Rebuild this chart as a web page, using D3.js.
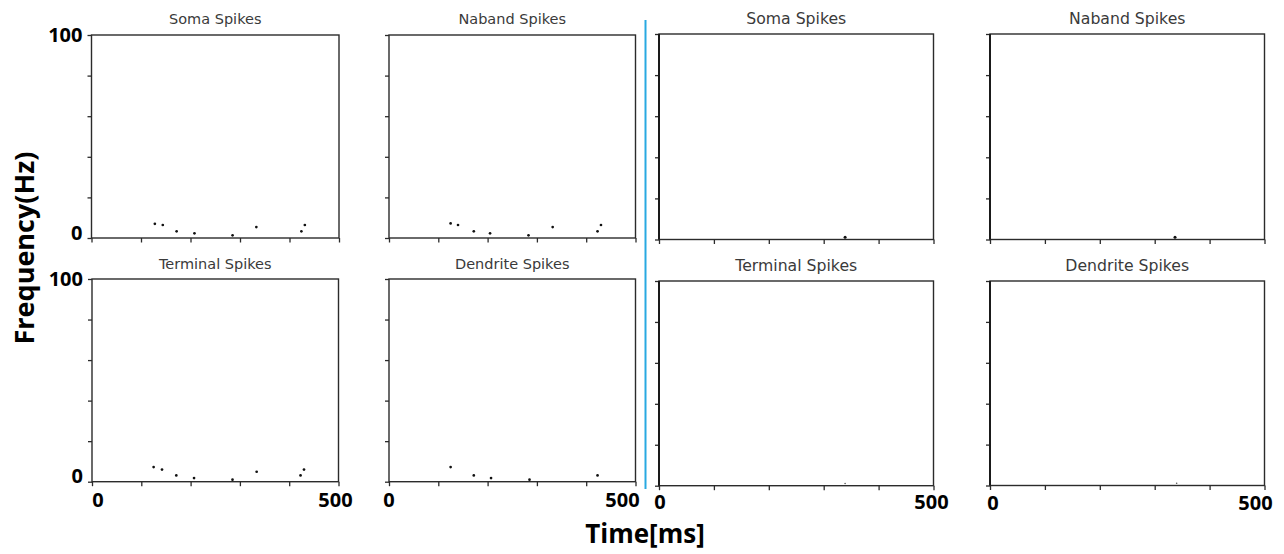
<!DOCTYPE html>
<html>
<head>
<meta charset="utf-8">
<script src="https://cdn.jsdelivr.net/npm/d3@7/dist/d3.min.js"></script>
<style>
  html, body { margin: 0; padding: 0; background: #fff; }
  svg { display: block; }
</style>
</head>
<body>
<svg id="chart" width="1284" height="554"></svg>
<script>
// Spike frequency (Hz) against time (ms) for four compartments, two conditions
const panelTitles = ["Soma Spikes", "Naband Spikes", "Terminal Spikes", "Dendrite Spikes"];

// Condition A (left block)
const somaTimesA     = [128, 144, 172, 208, 285, 333, 424, 431];
const somaFreqA      = [7.0, 6.4, 3.3, 2.3, 1.3, 5.4, 3.3, 6.4];
const nabandTimesA   = [125, 140, 172, 205, 283, 332, 423, 430];
const nabandFreqA    = [7.2, 6.4, 3.3, 2.3, 1.3, 5.4, 3.3, 6.4];
const terminalTimesA = [125, 142, 171, 207, 285, 334, 423, 430];
const terminalFreqA  = [7.2, 6.0, 3.1, 1.8, 1.0, 4.9, 3.1, 6.0];
const dendriteTimesA = [125, 172, 207, 285, 423];
const dendriteFreqA  = [7.2, 3.1, 1.8, 1.0, 3.1];

// Condition B (right block)
const somaTimesB     = [339];
const somaFreqB      = [1.1];
const nabandTimesB   = [337];
const nabandFreqB    = [1.1];
const terminalTimesB = [339];
const terminalFreqB  = [1.1];
const dendriteTimesB = [340];
const dendriteFreqB  = [1.1];

const timeDomain = [0, 500];
const freqDomain = [0, 100];
const timeTicks = [0, 100, 200, 300, 400, 500];
const freqTicks = [0, 20, 40, 60, 80, 100];
const yTickLabels = ["0", "100"];
const xTickLabels = ["0", "500"];

const zip = (ts, fs) => ts.map((t, i) => ({t: t, f: fs[i]}));

// Panel layout: pixel box of each plot area plus label settings
const panels = [
  {title: panelTitles[0], pts: zip(somaTimesA, somaFreqA),         x0: 91.5, x1: 339,    y0: 35,   y1: 238,   tSize: 14.5, tBase: 24,    yLabels: true,  xLabels: false, r: 1.35, right: false},
  {title: panelTitles[1], pts: zip(nabandTimesA, nabandFreqA),     x0: 389,  x1: 635.5,  y0: 35,   y1: 238,   tSize: 14.5, tBase: 24,    yLabels: false, xLabels: false, r: 1.35, right: false},
  {title: panelTitles[0], pts: zip(somaTimesB, somaFreqB),         x0: 659,  x1: 933.5,  y0: 34,   y1: 239.5, tSize: 15.7, tBase: 24,    yLabels: false, xLabels: false, r: 1.5,  right: true},
  {title: panelTitles[1], pts: zip(nabandTimesB, nabandFreqB),     x0: 990,  x1: 1264.5, y0: 34,   y1: 239.5, tSize: 15.7, tBase: 24,    yLabels: false, xLabels: false, r: 1.5,  right: true},
  {title: panelTitles[2], pts: zip(terminalTimesA, terminalFreqA), x0: 92,   x1: 338.5,  y0: 279,  y1: 481.7, tSize: 14.5, tBase: 268.5, yLabels: true,  xLabels: true,  r: 1.35, right: false, lx: [6, -3],  ly: 25},
  {title: panelTitles[3], pts: zip(dendriteTimesA, dendriteFreqA), x0: 389,  x1: 635.5,  y0: 279,  y1: 481.7, tSize: 14.5, tBase: 268.5, yLabels: false, xLabels: true,  r: 1.35, right: false, lx: [0, -13], ly: 25},
  {title: panelTitles[2], pts: zip(terminalTimesB, terminalFreqB), x0: 659,  x1: 933.5,  y0: 281,  y1: 485.7, tSize: 15.7, tBase: 270.5, yLabels: false, xLabels: true,  r: 0.8,  right: true,  lx: [1, -2],  ly: 23.5},
  {title: panelTitles[3], pts: zip(dendriteTimesB, dendriteFreqB), x0: 990,  x1: 1264.5, y0: 281,  y1: 485.5, tSize: 15.7, tBase: 270.5, yLabels: false, xLabels: true,  r: 0.8,  right: true,  lx: [3, -9],  ly: 24}
];

const svg = d3.select("#chart");
const boldFont = "'Open Sans', 'Liberation Sans', sans-serif";
const axisColor = "#2b2b2b";

panels.forEach(p => {
  const x = d3.scaleLinear().domain(timeDomain).range([p.x0, p.x1]);
  const y = d3.scaleLinear().domain(freqDomain).range([p.y1, p.y0]);
  const g = svg.append("g");

  // tick marks
  const xa = g.append("g")
    .attr("transform", `translate(0,${p.y1})`)
    .call(d3.axisBottom(x).tickValues(timeTicks).tickSize(4.5).tickSizeOuter(0).tickFormat(""));
  const ya = g.append("g")
    .attr("transform", `translate(${p.x0},0)`)
    .call(d3.axisLeft(y).tickValues(freqTicks).tickSize(4).tickSizeOuter(0).tickFormat(""));
  [xa, ya].forEach(a => {
    a.select(".domain").remove();
    a.selectAll("line").attr("stroke", axisColor).attr("stroke-width", 1.3);
  });

  // frame
  g.append("rect")
    .attr("x", p.x0).attr("y", p.y0)
    .attr("width", p.x1 - p.x0).attr("height", p.y1 - p.y0)
    .attr("fill", "none").attr("stroke", axisColor).attr("stroke-width", 1.4);
  if (p.right) {
    g.append("line")
      .attr("x1", p.x0).attr("x2", p.x0)
      .attr("y1", p.y0).attr("y2", p.y1)
      .attr("stroke", "#1a1a1a").attr("stroke-width", 2);
  }

  // title
  g.append("text")
    .attr("x", (p.x0 + p.x1) / 2).attr("y", p.tBase)
    .attr("text-anchor", "middle")
    .attr("font-family", "'DejaVu Sans', sans-serif")
    .attr("font-size", p.tSize)
    .attr("fill", "#3a3a3a")
    .text(p.title);

  // spike frequency points
  g.selectAll("circle.pt").data(p.pts).enter().append("circle")
    .attr("class", "pt")
    .attr("cx", d => x(d.t)).attr("cy", d => y(d.f))
    .attr("r", p.r)
    .attr("fill", p.r < 1 ? "#555" : "#111");

  // frequency labels
  if (p.yLabels) {
    g.append("text")
      .attr("x", p.x0 - 9).attr("y", y(100)).attr("dy", "0.36em")
      .attr("text-anchor", "end")
      .attr("font-family", boldFont).attr("font-weight", 700).attr("font-size", 20)
      .attr("fill", "#000").text(yTickLabels[1]);
    g.append("text")
      .attr("x", p.x0 - 9).attr("y", y(0) + 1.5)
      .attr("text-anchor", "end")
      .attr("font-family", boldFont).attr("font-weight", 700).attr("font-size", 20)
      .attr("fill", "#000").text(yTickLabels[0]);
  }

  // time labels
  if (p.xLabels) {
    g.append("text")
      .attr("x", x(0) + p.lx[0]).attr("y", p.y1 + p.ly)
      .attr("text-anchor", "middle")
      .attr("font-family", boldFont).attr("font-weight", 700).attr("font-size", 20)
      .attr("fill", "#000").text(xTickLabels[0]);
    g.append("text")
      .attr("x", x(500) + p.lx[1]).attr("y", p.y1 + p.ly)
      .attr("text-anchor", "middle")
      .attr("font-family", boldFont).attr("font-weight", 700).attr("font-size", 20)
      .attr("fill", "#000").text(xTickLabels[1]);
  }
});

// divider between the two condition blocks
svg.append("line")
  .attr("x1", 645.5).attr("x2", 645.5)
  .attr("y1", 20).attr("y2", 489)
  .attr("stroke", "#29a9e1").attr("stroke-width", 2);

// shared axis titles
svg.append("text")
  .attr("transform", "translate(34,248) rotate(-90)")
  .attr("text-anchor", "middle")
  .attr("font-family", boldFont).attr("font-weight", 700).attr("font-size", 27)
  .attr("fill", "#000").text("Frequency(Hz)");

svg.append("text")
  .attr("x", 645).attr("y", 543)
  .attr("text-anchor", "middle")
  .attr("font-family", boldFont).attr("font-weight", 700).attr("font-size", 26)
  .attr("fill", "#000").text("Time[ms]");
</script>
</body>
</html>
